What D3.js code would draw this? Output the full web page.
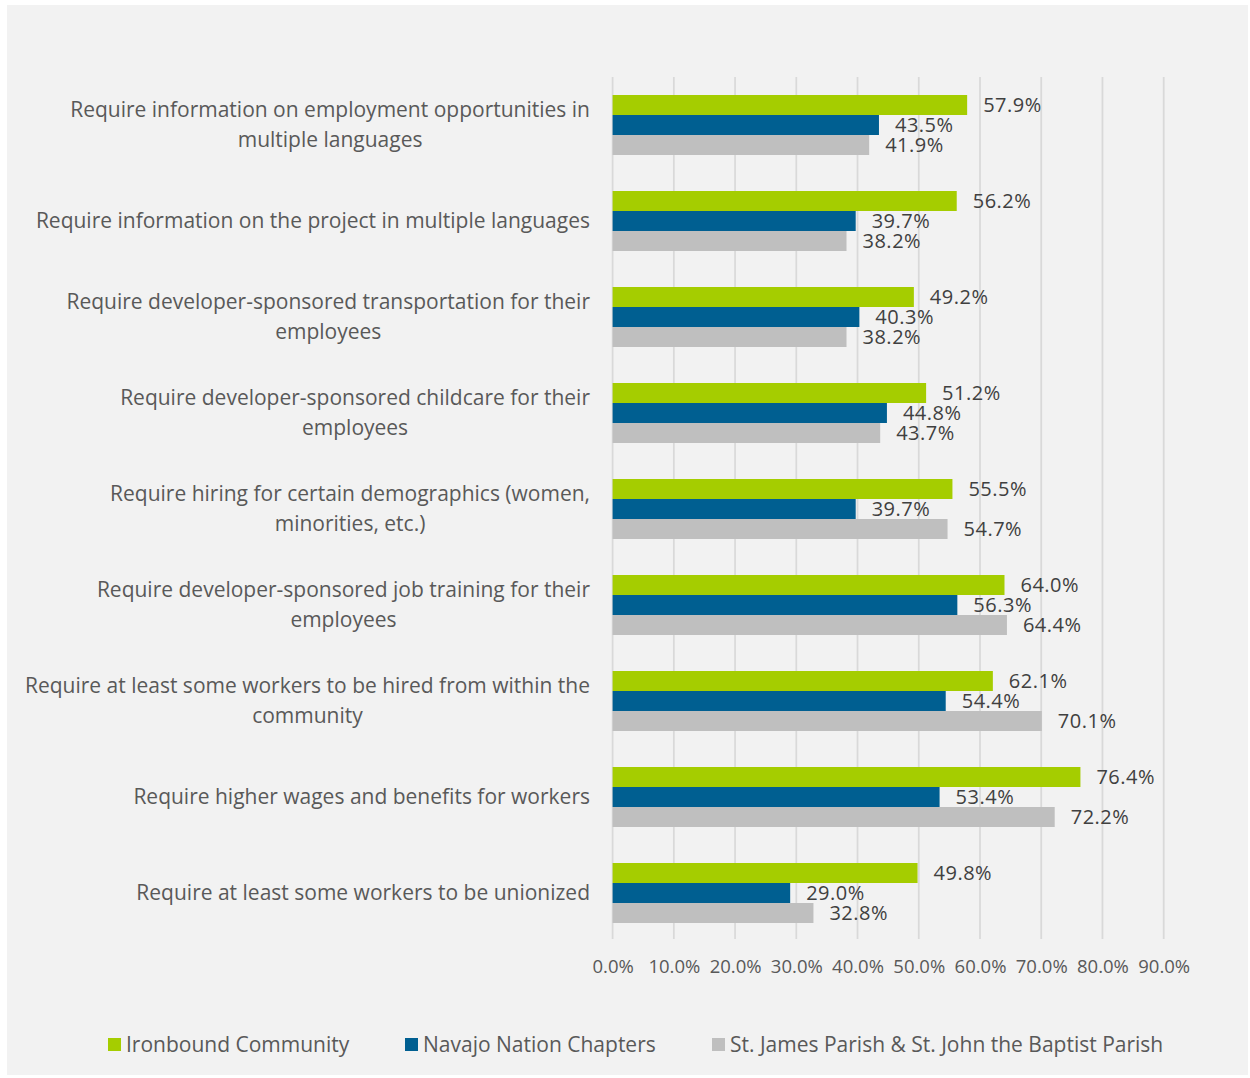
<!DOCTYPE html>
<html>
<head>
<meta charset="utf-8">
<script src="https://cdn.jsdelivr.net/npm/d3@7"></script>
<style>
  html, body { margin: 0; padding: 0; background: #ffffff; }
  svg { display: block; font-family: "Open Sans", "Noto Sans", sans-serif; }
</style>
</head>
<body>
<svg id="chart" width="1250" height="1078"></svg>
<script>
// Survey measures, one entry per category (wrapped label lines)
const categories = [
  ["Require information on employment opportunities in", "multiple languages"],
  ["Require information on the project in multiple languages"],
  ["Require developer-sponsored transportation for their", "employees"],
  ["Require developer-sponsored childcare for their", "employees"],
  ["Require hiring for certain demographics (women,", "minorities, etc.)"],
  ["Require developer-sponsored job training for their", "employees"],
  ["Require at least some workers to be hired from within the", "community"],
  ["Require higher wages and benefits for workers"],
  ["Require at least some workers to be unionized"]
];

const seriesNames = [
  "Ironbound Community",
  "Navajo Nation Chapters",
  "St. James Parish & St. John the Baptist Parish"
];

// Percent of respondents, in category order
const ironbound = [57.9, 56.2, 49.2, 51.2, 55.5, 64.0, 62.1, 76.4, 49.8];
const navajo    = [43.5, 39.7, 40.3, 44.8, 39.7, 56.3, 54.4, 53.4, 29.0];
const stJames   = [41.9, 38.2, 38.2, 43.7, 54.7, 64.4, 70.1, 72.2, 32.8];

const xTicks = [0, 10, 20, 30, 40, 50, 60, 70, 80, 90];

const colors = ["#a5cd00", "#005f91", "#bfbfbf"];
const seriesValues = [ironbound, navajo, stJames];

const svg = d3.select("#chart");

// panel background
svg.append("rect")
  .attr("x", 7).attr("y", 5)
  .attr("width", 1241).attr("height", 1070)
  .attr("fill", "#f2f2f2");

const plot = { left: 612.6, right: 1163.7, top: 77, bottom: 941 };

const x = d3.scaleLinear().domain([0, 90]).range([plot.left, plot.right]);
const y = d3.scaleBand()
  .domain(d3.range(categories.length))
  .range([plot.top, plot.bottom])
  .paddingInner(0.375)
  .paddingOuter(0.1875);
const ySub = d3.scaleBand()
  .domain(d3.range(seriesNames.length))
  .range([0, y.bandwidth()]);

// vertical gridlines
svg.append("g")
  .selectAll("line")
  .data(xTicks)
  .join("line")
  .attr("x1", d => x(d)).attr("x2", d => x(d))
  .attr("y1", plot.top).attr("y2", plot.bottom - 2)
  .attr("stroke", "#d9d9d9")
  .attr("stroke-width", 1.75);

// x axis tick labels
const xAxis = d3.axisBottom(x)
  .tickValues(xTicks)
  .tickSize(0)
  .tickPadding(0)
  .tickFormat(d => d.toFixed(1) + "%");
const gx = svg.append("g")
  .attr("transform", `translate(0,${plot.bottom + 26})`)
  .call(xAxis);
gx.select(".domain").remove();
gx.selectAll("text")
  .attr("y", 0).attr("dy", "0.35em")
  .attr("font-family", "\"Open Sans\", sans-serif")
  .attr("font-size", 18.5)
  .attr("fill", "#595959");

// bars and value labels
const groups = svg.append("g")
  .selectAll("g")
  .data(categories.map((c, i) => i))
  .join("g")
  .attr("transform", i => `translate(0,${y(i)})`);

groups.each(function (ci) {
  const g = d3.select(this);
  const rows = seriesValues.map((vals, si) => ({ si, v: vals[ci] }));
  g.selectAll("rect")
    .data(rows)
    .join("rect")
    .attr("x", x(0))
    .attr("y", d => ySub(d.si))
    .attr("width", d => x(d.v) - x(0))
    .attr("height", ySub.bandwidth())
    .attr("fill", d => colors[d.si]);
  g.selectAll("text.val")
    .data(rows)
    .join("text")
    .attr("class", "val")
    .attr("x", d => x(d.v) + 16)
    .attr("y", d => ySub(d.si) + ySub.bandwidth() / 2)
    .attr("dy", "0.36em")
    .attr("font-size", 20)
    .attr("letter-spacing", 0.5)
    .attr("fill", "#404040")
    .text(d => d.v.toFixed(1) + "%");
});

// category labels: block right-aligned, lines centred on each other
const labelRight = 590;
const lineH = 30;
categories.forEach((lines, ci) => {
  const cy = y(ci) + y.bandwidth() / 2;
  const t = svg.append("text")
    .attr("font-size", 21)
    .attr("fill", "#595959")
    .attr("text-anchor", "middle");
  const spans = lines.map((line, li) =>
    t.append("tspan")
      .attr("y", cy + (li - (lines.length - 1) / 2) * lineH)
      .attr("dy", "0.35em")
      .text(line)
  );
  const maxW = d3.max(spans, s => s.node().getComputedTextLength());
  spans.forEach(s => s.attr("x", labelRight - maxW / 2));
});

// legend
const legendItems = [
  { x: 108, name: seriesNames[0], color: colors[0] },
  { x: 405, name: seriesNames[1], color: colors[1] },
  { x: 712, name: seriesNames[2], color: colors[2] }
];
const lg = svg.append("g");
legendItems.forEach(d => {
  lg.append("rect")
    .attr("x", d.x).attr("y", 1038)
    .attr("width", 13).attr("height", 13)
    .attr("fill", d.color);
  lg.append("text")
    .attr("x", d.x + 18).attr("y", 1045)
    .attr("dy", "0.35em")
    .attr("font-size", 21)
    .attr("fill", "#595959")
    .text(d.name);
});
</script>
</body>
</html>
